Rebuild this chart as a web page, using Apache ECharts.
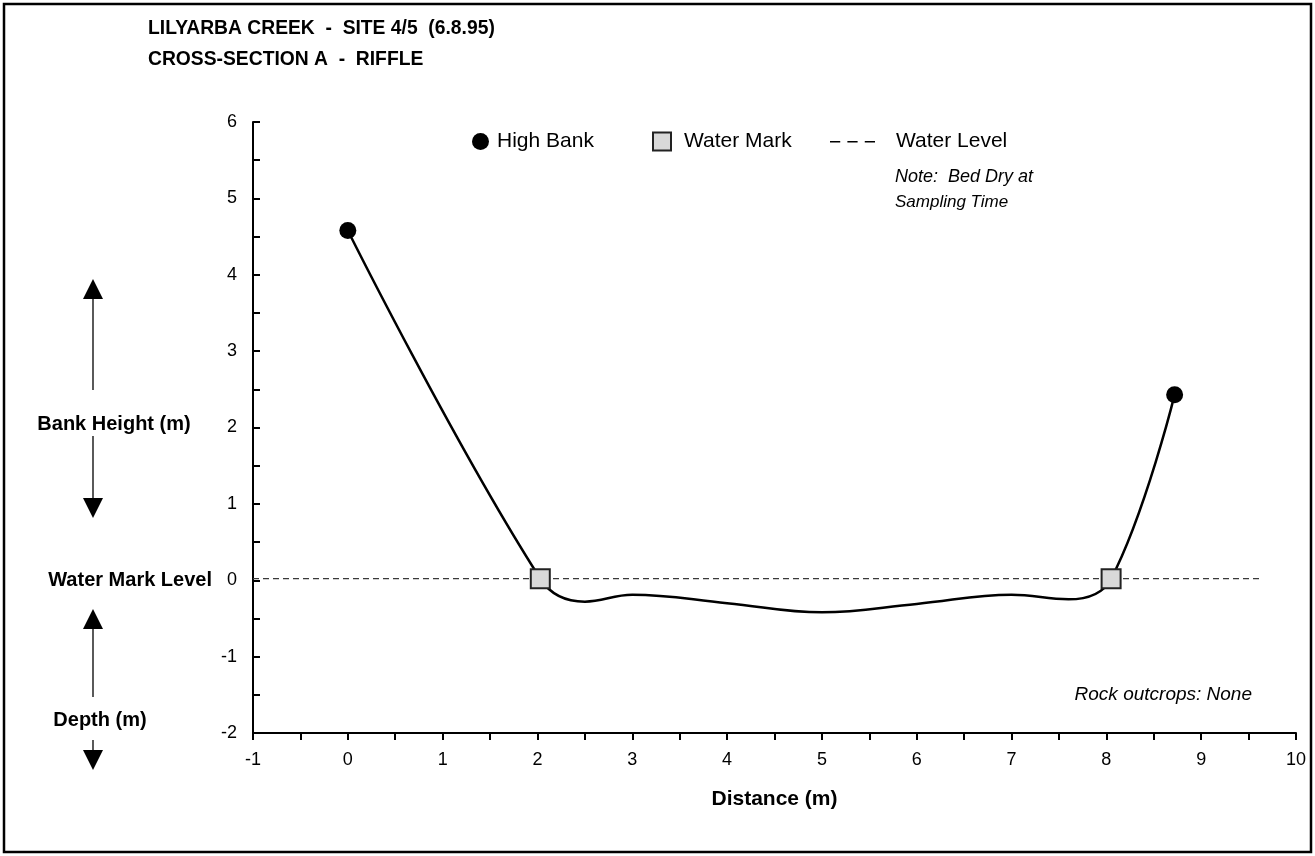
<!DOCTYPE html>
<html>
<head>
<meta charset="utf-8">
<script src="https://cdn.jsdelivr.net/npm/echarts@6/dist/echarts.min.js"></script>
<style>
  html, body { margin: 0; padding: 0; background: #fff; }
  #chart { width: 1315px; height: 856px; }
</style>
</head>
<body>
<div id="chart"></div>
<script>
// cross-section profile (distance, height relative to water mark level)
const profileX = [0, 2.03, 2.5, 3.0, 4.0, 5.0, 6.0, 7.0, 7.6, 8.05, 8.72]
const profileY = [4.58, 0.02, -0.28, -0.19, -0.30, -0.42, -0.31, -0.19, -0.25, 0.02, 2.43]

const highBankX = [0, 8.72]
const highBankY = [4.58, 2.43]

const waterMarkX = [2.03, 8.05]
const waterMarkY = [0.02, 0.02]

const waterLevelX = [-1, 9.65]
const waterLevelY = [0.02, 0.02]

const xTicks = { min: -1, max: 10, step: 1 }
const yTicks = { min: -2, max: 6, step: 1 }

const FONT = "'Liberation Sans', Arial, sans-serif"

const chart = echarts.init(document.getElementById('chart'))

function pairs(xs, ys) {
  return xs.map((x, i) => [x, ys[i]])
}

// little up/down arrows on the left side
function arrow(x, y1, y2, dir) {
  // dir: 'up' -> head at y1, 'down' -> head at y2
  const els = []
  if (dir === 'up') {
    els.push({ type: 'line', shape: { x1: x, y1: y1 + 18, x2: x, y2: y2 }, style: { stroke: '#000', lineWidth: 1.3 } })
    els.push({ type: 'polygon', shape: { points: [[x, y1], [x - 10, y1 + 20], [x + 10, y1 + 20]] }, style: { fill: '#000' } })
  } else {
    els.push({ type: 'line', shape: { x1: x, y1: y1, x2: x, y2: y2 - 18 }, style: { stroke: '#000', lineWidth: 1.3 } })
    els.push({ type: 'polygon', shape: { points: [[x, y2], [x - 10, y2 - 20], [x + 10, y2 - 20]] }, style: { fill: '#000' } })
  }
  return els
}

const boldText = (text, x, y, align, size) => ({
  type: 'text', x: x, y: y,
  style: { text: text, font: 'bold ' + (size || 20) + 'px ' + FONT, fill: '#000', textAlign: align || 'left', textVerticalAlign: 'middle' }
})
const italicText = (text, x, y, align, size) => ({
  type: 'text', x: x, y: y,
  style: { text: text, font: 'italic ' + (size || 17) + 'px ' + FONT, fill: '#000', textAlign: align || 'left', textVerticalAlign: 'middle' }
})

const legendText = { fontSize: 21, color: '#000', fontFamily: FONT }

const option = {
  backgroundColor: '#fff',
  animation: false,
  textStyle: { fontFamily: FONT },
  grid: { left: 253, right: 19, top: 122, bottom: 123, containLabel: false },
  legend: [
    {
      left: 472, top: 131, padding: 0,
      data: [{ name: 'High Bank', icon: 'circle' }],
      itemWidth: 17, itemHeight: 17,
      textStyle: Object.assign({ padding: [0, 0, 0, 3] }, legendText)
    },
    {
      left: 652, top: 131, padding: 0,
      data: [{ name: 'Water Mark', icon: 'rect' }],
      itemWidth: 18, itemHeight: 18,
      textStyle: Object.assign({ padding: [0, 0, 0, 8] }, legendText)
    },
    {
      left: 830, top: 131, padding: 0,
      data: [{ name: 'Water Level', icon: 'path://M0,8h10v1.4h-10z M17,8h10v1.4h-10z M34,8h10v1.4h-10z M0,0h1v0h-1z M0,17h1v0h-1z' }],
      itemWidth: 45, itemHeight: 18,
      itemStyle: { color: '#000', borderWidth: 0 },
      textStyle: Object.assign({ padding: [0, 0, 0, 16] }, legendText)
    }
  ],
  xAxis: {
    type: 'value',
    min: xTicks.min, max: xTicks.max, interval: xTicks.step,
    name: 'Distance (m)',
    nameLocation: 'middle',
    nameGap: 56,
    nameTextStyle: { fontSize: 21, fontWeight: 'bold', color: '#000', fontFamily: FONT },
    axisLine: { onZero: false, lineStyle: { color: '#000', width: 2 } },
    axisTick: { show: true, inside: false, length: 7, lineStyle: { color: '#000', width: 2 } },
    minorTick: { show: true, splitNumber: 2, length: 7, lineStyle: { color: '#000', width: 2 } },
    axisLabel: { fontSize: 18, color: '#000', margin: 18, fontFamily: FONT },
    splitLine: { show: false }
  },
  yAxis: {
    type: 'value',
    min: yTicks.min, max: yTicks.max, interval: yTicks.step,
    axisLine: { show: true, onZero: false, lineStyle: { color: '#000', width: 2 } },
    axisTick: { show: true, inside: true, length: 7, lineStyle: { color: '#000', width: 2 } },
    minorTick: { show: true, splitNumber: 2, length: 7, lineStyle: { color: '#000', width: 2 } },
    axisLabel: { fontSize: 18, color: '#000', margin: 16, fontFamily: FONT },
    splitLine: { show: false }
  },
  series: [
    {
      name: 'Water Level',
      type: 'line',
      data: pairs(waterLevelX, waterLevelY),
      symbol: 'none',
      lineStyle: { color: '#3a3a3a', width: 1.3, type: [6, 4] },
      itemStyle: { color: '#000' },
      z: 1
    },
    {
      name: 'Profile',
      type: 'line',
      data: pairs(profileX, profileY),
      smooth: 0.4,
      symbol: 'none',
      lineStyle: { color: '#000', width: 2.5 },
      z: 2
    },
    {
      name: 'High Bank',
      type: 'scatter',
      data: pairs(highBankX, highBankY),
      symbol: 'circle',
      symbolSize: 17,
      itemStyle: { color: '#000', opacity: 1 },
      z: 3
    },
    {
      name: 'Water Mark',
      type: 'scatter',
      data: pairs(waterMarkX, waterMarkY),
      symbol: 'rect',
      symbolSize: 19,
      itemStyle: { color: '#d9d9d9', borderColor: '#222', borderWidth: 2, opacity: 1 },
      z: 3
    }
  ],
  graphic: [
    { type: 'rect', shape: { x: 4, y: 4, width: 1307, height: 848 }, style: { fill: null, stroke: '#000', lineWidth: 2.5 }, silent: true },
    boldText('LILYARBA CREEK  -  SITE 4/5  (6.8.95)', 148, 29, 'left', 19.3),
    boldText('CROSS-SECTION A  -  RIFFLE', 148, 60, 'left', 19.3),
    italicText('Note:  Bed Dry at', 895, 177, 'left', 18),
    italicText('Sampling Time', 895, 202),
    italicText('Rock outcrops: None', 1252, 695, 'right', 19),
    boldText('Bank Height (m)', 114, 424, 'center'),
    boldText('Water Mark Level', 212, 580, 'right'),
    boldText('Depth (m)', 100, 720, 'center'),
    ...arrow(93, 279, 390, 'up'),
    ...arrow(93, 436, 518, 'down'),
    ...arrow(93, 609, 697, 'up'),
    ...arrow(93, 740, 770, 'down')
  ]
}

chart.setOption(option)
</script>
</body>
</html>
